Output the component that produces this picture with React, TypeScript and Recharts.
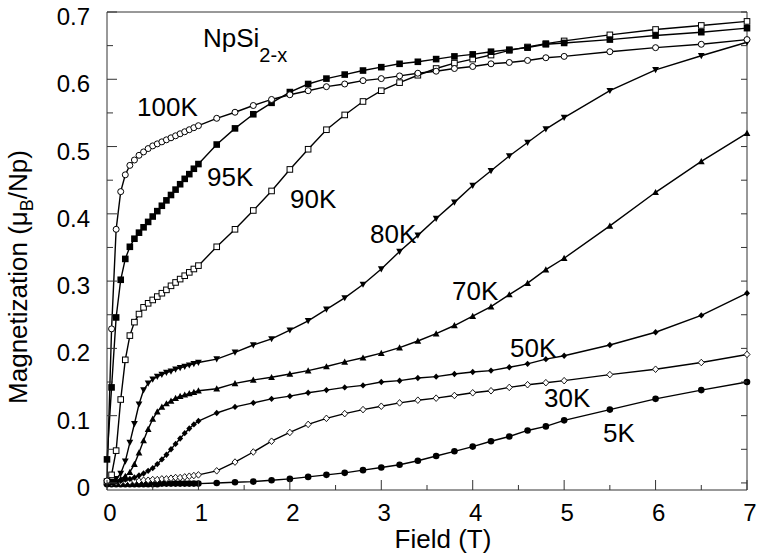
import React from "react";
import { LineChart, Line, XAxis, YAxis, ReferenceLine } from "recharts";

// applied field (T)
const field = [
  0, 0.05, 0.1, 0.15, 0.2, 0.25, 0.3, 0.35, 0.4, 0.45, 0.5, 0.55, 0.6, 0.65, 0.7, 0.75, 0.8, 0.85, 0.9, 0.95, 1.0,
  1.2, 1.4, 1.6, 1.8, 2.0, 2.2, 2.4, 2.6, 2.8, 3.0, 3.2, 3.4, 3.6, 3.8, 4.0, 4.2, 4.4, 4.6, 4.8, 5.0, 5.5, 6, 6.5, 7,
];

// magnetization (muB/Np) per temperature
const m100K = [
  0.003, 0.229, 0.377, 0.433, 0.458, 0.472, 0.48, 0.487, 0.492, 0.497, 0.501, 0.504, 0.507, 0.51, 0.513, 0.516, 0.519,
  0.522, 0.525, 0.528, 0.531, 0.542, 0.551, 0.561, 0.57, 0.577, 0.583, 0.589, 0.593, 0.598, 0.601, 0.605, 0.609, 0.612,
  0.616, 0.619, 0.623, 0.625, 0.628, 0.632, 0.634, 0.641, 0.647, 0.652, 0.659,
];
const m95K = [
  0.035, 0.142, 0.246, 0.302, 0.333, 0.351, 0.363, 0.372, 0.38, 0.388, 0.396, 0.404, 0.412, 0.42, 0.428, 0.436, 0.444,
  0.452, 0.459, 0.467, 0.474, 0.503, 0.527, 0.548, 0.565, 0.581, 0.593, 0.601, 0.607, 0.613, 0.618, 0.623, 0.626, 0.63,
  0.634, 0.637, 0.641, 0.644, 0.647, 0.652, 0.654, 0.659, 0.665, 0.67, 0.676,
];
const m90K = [
  0.002, 0.012, 0.048, 0.124, 0.183, 0.219, 0.239, 0.251, 0.261, 0.267, 0.272, 0.277, 0.282, 0.287, 0.293, 0.298,
  0.303, 0.308, 0.313, 0.318, 0.323, 0.351, 0.377, 0.405, 0.434, 0.466, 0.496, 0.525, 0.547, 0.567, 0.583, 0.595, 0.606,
  0.616, 0.624, 0.63, 0.636, 0.643, 0.648, 0.653, 0.657, 0.666, 0.674, 0.68, 0.686,
];
const m80K = [
  0.0, 0.002, 0.006, 0.014, 0.032, 0.06, 0.088, 0.117, 0.138, 0.148, 0.154, 0.158, 0.161, 0.164, 0.166, 0.169, 0.171,
  0.173, 0.175, 0.177, 0.179, 0.184, 0.194, 0.205, 0.214, 0.227, 0.241, 0.258, 0.275, 0.295, 0.318, 0.344, 0.368, 0.393,
  0.417, 0.442, 0.464, 0.486, 0.506, 0.526, 0.543, 0.583, 0.614, 0.635, 0.655,
];
const m70K = [
  0.0, 0.001, 0.003, 0.006, 0.01, 0.016, 0.028, 0.045, 0.063, 0.08, 0.095, 0.106, 0.113, 0.118, 0.122, 0.126, 0.129,
  0.131, 0.133, 0.135, 0.137, 0.14, 0.148, 0.153, 0.157, 0.162, 0.167, 0.173, 0.18, 0.186, 0.193, 0.201, 0.211, 0.222,
  0.234, 0.248, 0.262, 0.28, 0.297, 0.317, 0.334, 0.382, 0.432, 0.478, 0.52,
];
const m50K = [
  0.0, 0.001, 0.002, 0.003, 0.005, 0.006, 0.008, 0.011, 0.014, 0.018, 0.022, 0.028, 0.035, 0.042, 0.05, 0.058, 0.066,
  0.074, 0.081, 0.087, 0.092, 0.104, 0.113, 0.119, 0.125, 0.129, 0.134, 0.138, 0.142, 0.145, 0.15, 0.152, 0.156, 0.158,
  0.162, 0.165, 0.167, 0.172, 0.177, 0.184, 0.189, 0.205, 0.224, 0.249, 0.282,
];
const m30K = [
  0.0, 0.0, 0.001, 0.001, 0.002, 0.002, 0.003, 0.003, 0.004, 0.004, 0.005, 0.005, 0.006, 0.006, 0.007, 0.008, 0.008,
  0.009, 0.01, 0.011, 0.012, 0.018, 0.031, 0.046, 0.062, 0.075, 0.087, 0.096, 0.103, 0.109, 0.114, 0.119, 0.123, 0.126,
  0.13, 0.134, 0.137, 0.142, 0.146, 0.149, 0.152, 0.161, 0.169, 0.179, 0.191,
];
const m5K = [
  -0.002, -0.002, -0.002, -0.002, -0.002, -0.002, -0.002, -0.002, -0.002, -0.002, -0.002, -0.002, -0.001, -0.001,
  -0.001, -0.001, -0.001, -0.001, -0.001, -0.001, -0.001, 0.0, 0.001, 0.002, 0.004, 0.006, 0.009, 0.012, 0.015, 0.019,
  0.023, 0.027, 0.033, 0.04, 0.047, 0.054, 0.062, 0.069, 0.078, 0.084, 0.093, 0.109, 0.125, 0.138, 0.15,
];

const xTicks = [0, 0.5, 1, 1.5, 2, 2.5, 3, 3.5, 4, 4.5, 5, 5.5, 6, 6.5, 7];
const yTicks = [0, 0.05, 0.1, 0.15, 0.2, 0.25, 0.3, 0.35, 0.4, 0.45, 0.5, 0.55, 0.6, 0.65, 0.7];

const W = 757;
const H = 557;
const LEFT = 107;
const RIGHT = 747;
const TOP = 12;
const BOTTOM = 490;
const FONT = "'Liberation Sans', Arial, Helvetica, sans-serif";
const AXIS = "#333";

const toRows = (vals: number[]) => field.map((f, i) => ({ f, m: vals[i] }));

type Shape = "circleOpen" | "circle" | "square" | "squareOpen" | "triDown" | "triUp" | "diamond" | "diamondOpen";

const marker = (shape: Shape, id: string) => (props: any) => {
  const { cx, cy, index } = props;
  const key = `${id}-${index}`;
  if (cx == null || cy == null) return <g key={key} />;
  switch (shape) {
    case "circleOpen":
      return <circle key={key} cx={cx} cy={cy} r={3} fill="#fff" stroke="#000" strokeWidth={1} />;
    case "circle":
      return <circle key={key} cx={cx} cy={cy} r={3.3} fill="#000" />;
    case "square":
      return <rect key={key} x={cx - 3.3} y={cy - 3.3} width={6.6} height={6.6} fill="#000" />;
    case "squareOpen":
      return <rect key={key} x={cx - 2.8} y={cy - 2.8} width={5.6} height={5.6} fill="#fff" stroke="#000" strokeWidth={1} />;
    case "triDown":
      return <path key={key} d={`M${cx - 3.4},${cy - 2.8}L${cx + 3.4},${cy - 2.8}L${cx},${cy + 3.4}Z`} fill="#000" />;
    case "triUp":
      return <path key={key} d={`M${cx - 3.4},${cy + 2.8}L${cx + 3.4},${cy + 2.8}L${cx},${cy - 3.4}Z`} fill="#000" />;
    case "diamond":
      return <path key={key} d={`M${cx},${cy - 3.2}L${cx + 3},${cy}L${cx},${cy + 3.2}L${cx - 3},${cy}Z`} fill="#000" />;
    default:
      return (
        <path
          key={key}
          d={`M${cx},${cy - 3.3}L${cx + 3},${cy}L${cx},${cy + 3.3}L${cx - 3},${cy}Z`}
          fill="#fff"
          stroke="#000"
          strokeWidth={0.9}
        />
      );
  }
};

const series: { id: string; vals: number[]; shape: Shape }[] = [
  { id: "5K", vals: m5K, shape: "circle" },
  { id: "30K", vals: m30K, shape: "diamondOpen" },
  { id: "50K", vals: m50K, shape: "diamond" },
  { id: "70K", vals: m70K, shape: "triUp" },
  { id: "80K", vals: m80K, shape: "triDown" },
  { id: "90K", vals: m90K, shape: "squareOpen" },
  { id: "95K", vals: m95K, shape: "square" },
  { id: "100K", vals: m100K, shape: "circleOpen" },
];

// curve labels, [text, left x, baseline y]
const curveLabels: [string, number, number][] = [
  ["100K", 137, 116],
  ["95K", 207, 186],
  ["90K", 290, 208],
  ["80K", 370, 243],
  ["70K", 452, 300],
  ["50K", 510, 357],
  ["30K", 544, 407],
  ["5K", 603, 442],
];

const XTick = (props: any) => {
  const { x, payload } = props;
  const v = payload.value;
  const major = Number.isInteger(v);
  return (
    <g>
      <line x1={x} x2={x} y1={BOTTOM} y2={BOTTOM - (major ? 10 : 5)} stroke={AXIS} strokeWidth={1} />
      {major && (
        <text x={x + 3} y={521} textAnchor="middle" fontSize={24} fontFamily={FONT} fill="#000">
          {v}
        </text>
      )}
    </g>
  );
};

const YTick = (props: any) => {
  const { y, payload } = props;
  const v = payload.value;
  const major = Math.abs(v * 10 - Math.round(v * 10)) < 1e-6;
  return (
    <g>
      <line x1={LEFT} x2={LEFT + (major ? 10 : 6)} y1={y} y2={y} stroke={AXIS} strokeWidth={1} />
      <line x1={RIGHT} x2={RIGHT - 6} y1={y} y2={y} stroke={AXIS} strokeWidth={1} />
      {major && (
        <text x={90} y={y + 13} textAnchor="end" fontSize={24} fontFamily={FONT} fill="#000">
          {v === 0 ? "0" : v.toFixed(1)}
        </text>
      )}
    </g>
  );
};

export default function App() {
  return (
    <div style={{ position: "absolute", left: 0, top: 0, width: W, height: H, background: "#fff" }}>
      <LineChart width={W} height={H} margin={{ top: TOP, right: W - RIGHT, left: 0, bottom: 0 }}>
        <XAxis
          dataKey="f"
          type="number"
          domain={[0, 7]}
          ticks={xTicks}
          interval={0}
          tickLine={false}
          axisLine={{ stroke: AXIS, strokeWidth: 1 }}
          height={H - BOTTOM}
          tick={<XTick />}
        />
        <YAxis
          type="number"
          domain={[-0.0105, 0.7]}
          ticks={yTicks}
          interval={0}
          tickLine={false}
          axisLine={{ stroke: AXIS, strokeWidth: 1 }}
          width={LEFT}
          tick={<YTick />}
        />
        <ReferenceLine y={0.7} stroke={AXIS} strokeWidth={1} />
        <ReferenceLine x={7} stroke={AXIS} strokeWidth={1} />
        {series.map((s) => (
          <Line
            key={s.id}
            data={toRows(s.vals)}
            dataKey="m"
            type="linear"
            stroke="#000"
            strokeWidth={1.4}
            dot={marker(s.shape, s.id)}
            activeDot={false}
            isAnimationActive={false}
          />
        ))}
      </LineChart>
      <svg width={W} height={H} style={{ position: "absolute", left: 0, top: 0, pointerEvents: "none" }}>
        <g fontFamily={FONT} fill="#000">
          <text x={203} y={47} fontSize={26}>
            NpSi
            <tspan fontSize={20} dy={15}>
              2-x
            </tspan>
          </text>
          {curveLabels.map(([t, x, y]) => (
            <text key={t} x={x} y={y} fontSize={26}>
              {t}
            </text>
          ))}
          <text x={443} y={548} fontSize={26} textAnchor="middle">
            Field (T)
          </text>
          <text transform="translate(27,277) rotate(-90)" fontSize={26} textAnchor="middle">
            Magnetization (μ
            <tspan fontSize={18} dy={6}>
              B
            </tspan>
            <tspan dy={-6}>/Np)</tspan>
          </text>
        </g>
      </svg>
    </div>
  );
}
